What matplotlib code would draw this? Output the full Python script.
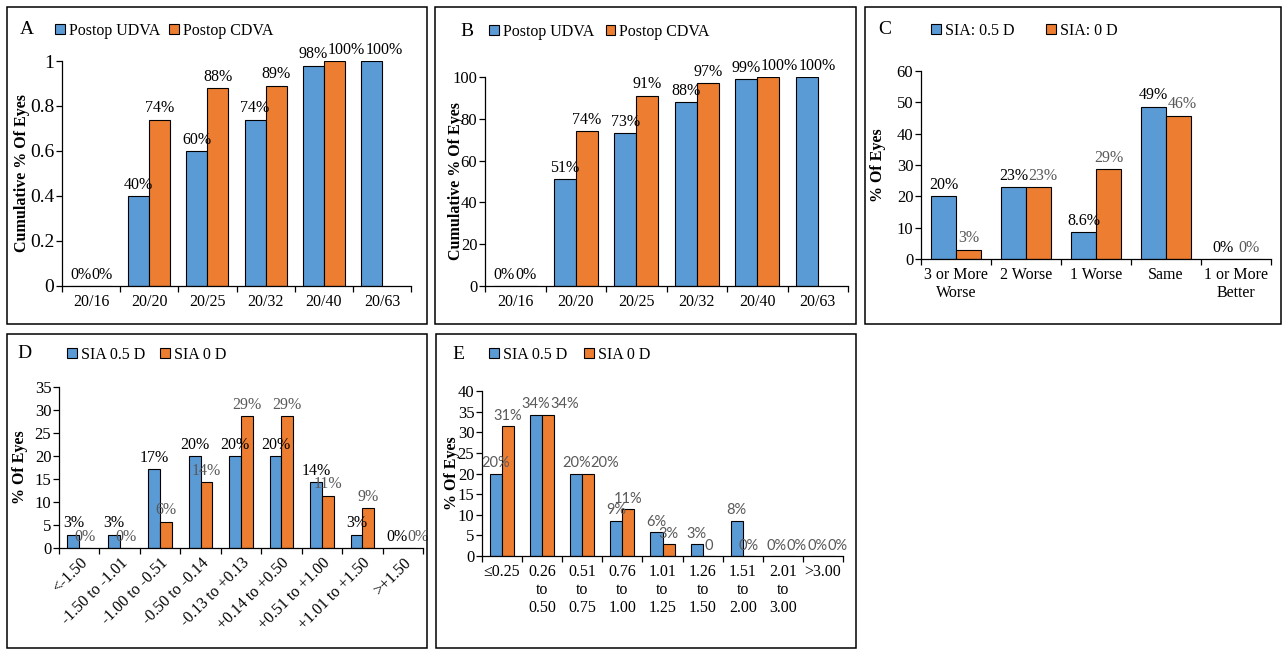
import numpy as np
import matplotlib
matplotlib.use("Agg")
import matplotlib.pyplot as plt
from matplotlib.patches import Rectangle
from matplotlib.ticker import FuncFormatter

plt.rcParams['font.family'] = ['Liberation Serif', 'DejaVu Serif']
plt.rcParams['font.size'] = 11.5

BLUE   = "#5B9BD5"
ORANGE = "#ED7D31"
GRAY   = "#595959"
W, H   = 1284, 650

# ─── DATA ────────────────────────────────────────────────────
va_cats = ["20/16", "20/20", "20/25", "20/32", "20/40", "20/63"]

a_udva     = [0, 0.40, 0.60, 0.74, 0.98, 1.00]
a_cdva     = [0, 0.74, 0.88, 0.89, 1.00, np.nan]
a_udva_lbl = ["0%", "40%", "60%", "74%", "98%", "100%"]
a_cdva_lbl = ["0%", "74%", "88%", "89%", "100%", ""]

b_udva     = [0, 51, 73, 88, 99, 100]
b_cdva     = [0, 74, 91, 97, 100, np.nan]
b_udva_lbl = ["0%", "51%", "73%", "88%", "99%", "100%"]
b_cdva_lbl = ["0%", "74%", "91%", "97%", "100%", ""]

c_cats   = ["3 or More\nWorse", "2 Worse", "1 Worse", "Same", "1 or More\nBetter"]
c_sia05  = [20.0, 22.9, 8.6, 48.6, 0]
c_sia0   = [2.9, 22.9, 28.6, 45.7, 0]
c_05_lbl = ["20%", "23%", "8.6%", "49%", "0%"]
c_0_lbl  = ["3%", "23%", "29%", "46%", "0%"]

d_cats   = ["<-1.50", "-1.50 to -1.01", "-1.00 to -0.51", "-0.50 to -0.14",
            "-0.13 to +0.13", "+0.14 to +0.50", "+0.51 to +1.00",
            "+1.01 to +1.50", ">+1.50"]
d_sia05  = [2.9, 2.9, 17.1, 20.0, 20.0, 20.0, 14.3, 2.9, 0]
d_sia0   = [0, 0, 5.7, 14.3, 28.6, 28.6, 11.4, 8.6, 0]
d_05_lbl = ["3%", "3%", "17%", "20%", "20%", "20%", "14%", "3%", "0%"]
d_0_lbl  = ["0%", "0%", "6%", "14%", "29%", "29%", "11%", "9%", "0%"]

e_cats   = ["\u22640.25", "0.26\nto\n0.50", "0.51\nto\n0.75", "0.76\nto\n1.00",
            "1.01\nto\n1.25", "1.26\nto\n1.50", "1.51\nto\n2.00",
            "2.01\nto\n3.00", ">3.00"]
e_sia05  = [20.0, 34.3, 20.0, 8.6, 5.7, 2.9, 8.6, 0, 0]
e_sia0   = [31.4, 34.3, 20.0, 11.4, 2.9, 0, 0, 0, 0]
e_05_lbl = ["20%", "34%", "20%", "9%", "6%", "3%", "8%", "0%", "0%"]
e_0_lbl  = ["31%", "34%", "20%", "11%", "3%", "0", "0%", "0%", "0%"]


fig = plt.figure(figsize=(W / 100, H / 100), dpi=100)
all_labels = []   # value labels per axes, left to right


def px_axes(l, t, r, b):
    return fig.add_axes([l / W, 1 - b / H, (r - l) / W, (b - t) / H])


def border(x0, y0, x1, y1):
    fig.add_artist(Rectangle((x0 / W, 1 - y1 / H), (x1 - x0) / W, (y1 - y0) / H,
                             transform=fig.transFigure, fill=False,
                             ec="black", lw=1.1))


def panel(ax, cats, s1, s2, l1, l2, names, bw, ylim, ystep, ylabel,
          ylab_x, letter, letter_xy, leg_xy, colsp, c1="black", c2="black",
          lbl_font=None, rot=0, xpad=6, ytick_size=12):
    n = len(cats)
    x = np.arange(n)
    v1 = np.nan_to_num(np.array(s1, dtype=float))
    v2 = np.array(s2, dtype=float)
    ax.bar(x - bw / 2, v1, bw, color=BLUE, edgecolor="black", lw=0.8,
           label=names[0], zorder=2)
    m = ~np.isnan(v2)
    ax.bar((x + bw / 2)[m], v2[m], bw, color=ORANGE, edgecolor="black",
           lw=0.8, label=names[1], zorder=2)
    kw = dict(textcoords="offset points", xytext=(0, 2.5), ha="center",
              va="bottom", fontsize=11.5)
    if lbl_font:
        kw.update(fontfamily=lbl_font, fontsize=10.5)
    anns = []
    for i in range(n):
        if l1[i]:
            anns.append(ax.annotate(l1[i], (x[i] - bw / 2, v1[i]), color=c1, **kw))
        if l2[i]:
            anns.append(ax.annotate(l2[i], (x[i] + bw / 2, v2[i]), color=c2, **kw))
    all_labels.append(anns)

    ax.set_xlim(-0.5, n - 0.5)
    ax.set_ylim(*ylim)
    ax.set_yticks(np.arange(ylim[0], ylim[1] + ystep / 2, ystep))
    ax.yaxis.set_major_formatter(FuncFormatter(lambda v, p: f"{round(v, 6):g}"))
    ax.set_xticks(np.arange(n + 1) - 0.5)
    ax.set_xticklabels([])
    ax.set_xticks(x, minor=True)
    if rot:
        ax.set_xticklabels(cats, minor=True, rotation=rot, ha="right",
                           rotation_mode="anchor")
    else:
        ax.set_xticklabels(cats, minor=True, linespacing=1.15)
    ax.tick_params(axis="x", which="major", length=4, width=0.9, direction="out")
    ax.tick_params(axis="x", which="minor", length=0, pad=xpad, labelsize=11.5)
    ax.tick_params(axis="y", length=4, width=0.9, direction="out", pad=1.5,
                   labelsize=ytick_size)
    for s in ["top", "right"]:
        ax.spines[s].set_visible(False)
    for s in ["left", "bottom"]:
        ax.spines[s].set_linewidth(0.9)
    ax.set_ylabel(ylabel, fontweight="bold", fontsize=11.5, labelpad=0)
    ax.yaxis.set_label_coords(ylab_x, 0.5)

    fig.text(letter_xy[0] / W, 1 - letter_xy[1] / H, letter, fontsize=14,
             ha="center", va="center")
    ax.legend(loc="center left", bbox_to_anchor=(leg_xy[0] / W, 1 - leg_xy[1] / H),
              bbox_transform=fig.transFigure, ncol=2, frameon=False,
              borderpad=0, borderaxespad=0, handlelength=0.6,
              handleheight=0.6, handletextpad=0.25, columnspacing=colsp,
              fontsize=11.5)


def spread_labels():
    # push value labels to the right when they collide, like Excel does
    fig.canvas.draw()
    r = fig.canvas.get_renderer()
    for anns in all_labels:
        placed = []
        for a in anns:
            bb = a.get_window_extent(r)
            x0, x1, y0, y1 = bb.x0, bb.x1, bb.y0 + 2, bb.y1 - 2
            shift = 0.0
            for _ in range(3):
                for (p0, p1, q0, q1) in placed:
                    if y0 < q1 and q0 < y1 and x0 + shift < p1 and x1 + shift > p0:
                        shift = p1 - x0
            if shift > 0:
                a.xyann = (shift * 72 / 100, a.xyann[1])
            placed.append((x0 + shift, x1 + shift, y0, y1))


# ─── PANEL BORDERS ───────────────────────────────────────────
border(7, 7, 427, 324)
border(435, 7, 856, 324)
border(865, 7, 1281, 324)
border(7, 334, 427, 648)
border(436, 334, 856, 648)

# ─── A ───────────────────────────────────────────────────────
axA = px_axes(62, 61, 411, 286)
panel(axA, va_cats, a_udva, a_cdva, a_udva_lbl, a_cdva_lbl,
      ["Postop UDVA", "Postop CDVA"], 0.36, (0, 1), 0.2,
      "Cumulative % Of Eyes", -0.092, "A", (27, 30), (55, 31), 0.6,
      ytick_size=14)

# ─── B ───────────────────────────────────────────────────────
axB = px_axes(485, 77, 848, 286)
panel(axB, va_cats, b_udva, b_cdva, b_udva_lbl, b_cdva_lbl,
      ["Postop UDVA", "Postop CDVA"], 0.36, (0, 100), 20,
      "Cumulative % Of Eyes", -0.058, "B", (467, 31), (489, 32), 0.75)

# ─── C ───────────────────────────────────────────────────────
axC = px_axes(921, 71, 1271, 259)
panel(axC, c_cats, c_sia05, c_sia0, c_05_lbl, c_0_lbl,
      ["SIA: 0.5 D", "SIA: 0 D"], 0.36, (0, 60), 10,
      "% Of Eyes", -0.1, "C", (885, 30), (931, 31), 2.0, c2=GRAY)

# ─── D ───────────────────────────────────────────────────────
axD = px_axes(59, 387, 423, 548)
panel(axD, d_cats, d_sia05, d_sia0, d_05_lbl, d_0_lbl,
      ["SIA 0.5 D", "SIA 0 D"], 0.29, (0, 35), 5,
      "% Of Eyes", -0.085, "D", (24, 353), (67, 355), 0.95, c2=GRAY,
      rot=45, xpad=5)

# ─── E ───────────────────────────────────────────────────────
axE = px_axes(482, 391, 843, 556)
panel(axE, e_cats, e_sia05, e_sia0, e_05_lbl, e_0_lbl,
      ["SIA 0.5 D", "SIA 0 D"], 0.30, (0, 40), 5,
      "% Of Eyes", -0.061, "E", (458, 355), (489, 355), 1.1,
      c1=GRAY, c2=GRAY, lbl_font=["Lato", "DejaVu Sans"])

spread_labels()
fig.savefig("out.png", dpi=100)
